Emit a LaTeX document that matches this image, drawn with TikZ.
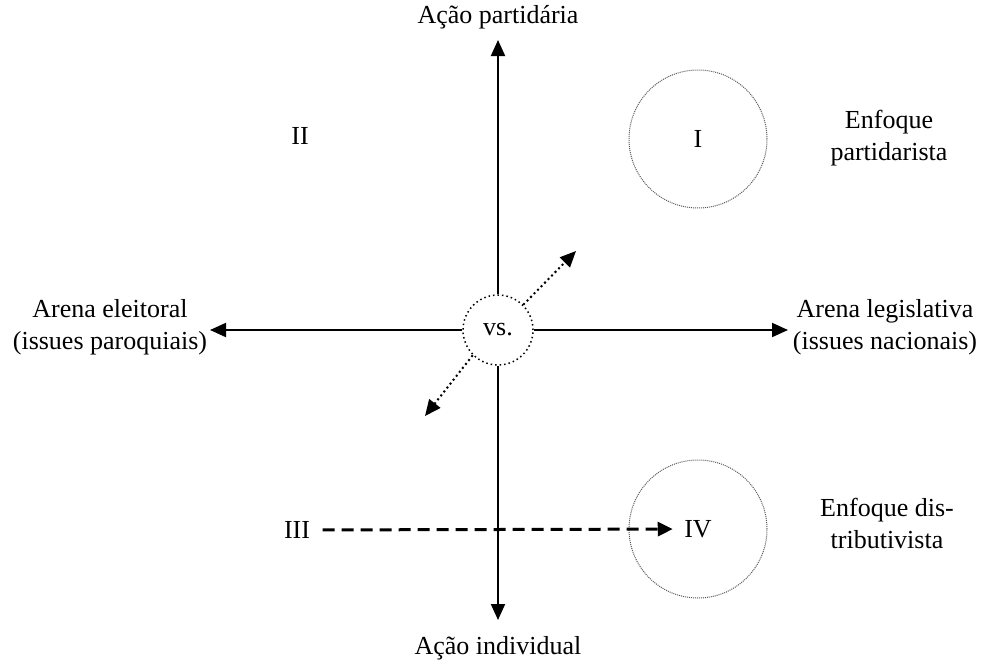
\documentclass[tikz,border=0pt]{standalone}
\usepackage{fontspec}
\setmainfont{Liberation Serif}
\usetikzlibrary{arrows.meta, positioning}

\begin{document}
\begin{tikzpicture}[
        x=1pt, y=-1pt,
        every node/.style={font=\fontsize{26}{32}\selectfont},
        axis/.style={
            draw,
            line width=2pt,
            -{Triangle[length=16pt, width=14pt]}
        },
        diag/.style={
            draw,
            line width=2pt,
            dash pattern=on 2pt off 3pt,
            -{Triangle[length=16pt, width=14pt]}
        },
        moveline/.style={
            draw,
            line width=3pt,
            dash pattern=on 12pt off 7pt,
            -{Triangle[length=15pt, width=14pt]},
            shorten <=9pt, shorten >=8pt
        },
        zone/.style={
            circle,
            draw=gray!70!black,
            line width=1pt,
            dash pattern=on 1pt off 1pt,
            minimum size=138pt,
            inner sep=0pt
        },
        label/.style={align=center}
    ]
    \useasboundingbox (0,0) rectangle (983,664);

    % --- CENTRO ---
    \node [circle, draw, line width=1.5pt, dash pattern=on 1.5pt off 3pt,
           minimum size=70pt, inner sep=0pt] (vs) at (498,330) {vs.};

    % --- PONTAS DOS EIXOS ---
    \coordinate (topTip) at (498,40);
    \coordinate (botTip) at (498,620);
    \coordinate (leftTip) at (210,330);
    \coordinate (rightTip) at (788,330);
    \coordinate (neTip) at (576,251);
    \coordinate (swTip) at (425,416);

    % --- ROTULOS ---
    \node [label] (partyAction) at (498,17) {Ação partidária};
    \node [label] (indivAction) at (498,648) {Ação individual};
    \node [label] (elecArena) at (110,327) {Arena eleitoral\\(issues paroquiais)};
    \node [label] (legArena) at (885,327) {Arena legislativa\\(issues nacionais)};
    \node [label] (partyFocus) at (889,138) {Enfoque\\partidarista};
    \node [label] (distFocus) at (887,523) {Enfoque dis-\\tributivista};

    % --- QUADRANTES ---
    \node [zone] (zoneI) at (698,139) {I};
    \node (quadII) at (300,136) {II};
    \node (quadIII) at (297,530) {III};
    \node [zone] (zoneIV) at (698,529) {};
    \node (quadIV) at (zoneIV) {IV};

    % --- EIXOS ---
    \path [axis] (vs.north) -- (topTip);
    \path [axis] (vs.south) -- (botTip);
    \path [axis] (vs.west) -- (leftTip);
    \path [axis] (vs.east) -- (rightTip);
    \path [diag] (vs.45) -- (neTip);
    \path [diag] (vs.225) -- (swTip);
    \path [moveline] (quadIII) -- (quadIV);
\end{tikzpicture}
\end{document}
